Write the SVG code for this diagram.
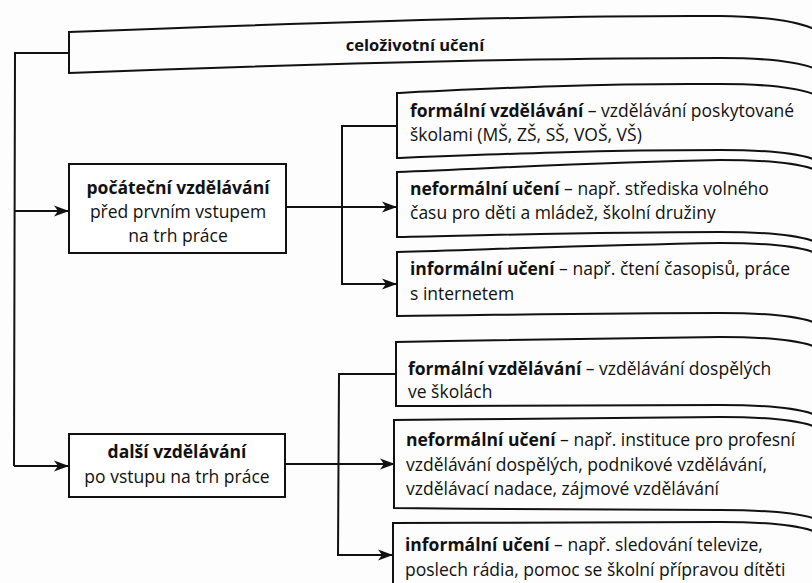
<svg xmlns="http://www.w3.org/2000/svg" width="812" height="583" viewBox="0 0 812 583">
<defs>
<marker id="arr" markerUnits="userSpaceOnUse" markerWidth="16" markerHeight="12" refX="15" refY="5.5" orient="auto" viewBox="0 0 16 11">
<path d="M0,0 L15,5.5 L0,11 L4,5.5 Z" fill="#111"/>
</marker>
<style>
.ln{fill:none;stroke:#111;stroke-width:2;stroke-linejoin:miter}
.bx{fill:#fff;stroke:#111;stroke-width:2}
text{font-family:"Open Sans","Noto Sans","DejaVu Sans",sans-serif;fill:#111;font-size:17.5px}
.l{font-size:17.5px}
.b{font-weight:700}
.c{text-anchor:middle}
</style>
</defs>
<rect width="812" height="583" fill="#fdfdfd"/>

<g id="connectors">
<path class="ln" d="M69,53 L15,53 L14,466"/>
<path class="ln" d="M15,211 L69,211" marker-end="url(#arr)"/>
<path class="ln" d="M14,466 L69,466" marker-end="url(#arr)"/>
<path class="ln" d="M286,207 L397,207" marker-end="url(#arr)"/>
<path class="ln" d="M397,126 L342,126 L342,284 L397,284" marker-end="url(#arr)"/>
<path class="ln" d="M285,464 L395,464" marker-end="url(#arr)"/>
<path class="ln" d="M396,374 L339,374 L338,555 L393,555" marker-end="url(#arr)"/>
</g>

<g id="celozivotni-uceni">
<path class="ln" d="M816,30 Q790,17 720,16 C550,15 300,23 69,32 V73 C300,64 550,58 720,58 Q790,58 816,69"/>
<text class="c b" x="415" y="51" style="font-size:16.5px">celoživotní učení</text>
</g>

<g id="pocatecni-vzdelavani">
<rect class="bx" x="69" y="164" width="217" height="89"/>
<text class="c" x="178" y="194"><tspan class="b">počáteční vzdělávání</tspan></text>
<text class="c" x="178" y="218">před prvním vstupem</text>
<text class="c" x="178" y="242">na trh práce</text>
</g>

<g id="dalsi-vzdelavani">
<rect class="bx" x="69" y="434" width="216" height="63"/>
<text class="c" x="177" y="458"><tspan class="b">další vzdělávání</tspan></text>
<text class="c" x="177" y="483">po vstupu na trh práce</text>
</g>

<g id="formalni-1">
<path class="ln" d="M816,95 Q790,84 720,84 C600,83 500,88 397,93 V158 C500,154 600,150 720,150 Q790,150 816,160"/>
<text x="410" y="117"><tspan class="b">formální vzdělávání</tspan> – vzdělávání poskytované</text>
<text x="410" y="141">školami (MŠ, ZŠ, SŠ, VOŠ, VŠ)</text>
</g>

<g id="neformalni-1">
<path class="ln" d="M816,170 Q790,160 720,160 C600,162 500,168 397,172 V237 C500,235 600,232 720,232 Q790,232 816,242"/>
<text x="410" y="195"><tspan class="b">neformální učení</tspan> – např. střediska volného</text>
<text x="410" y="219">času pro děti a mládež, školní družiny</text>
</g>

<g id="informalni-1">
<path class="ln" d="M816,253 Q790,243 720,243 C600,245 500,249 397,252 V316 C500,315 600,313 720,313 Q790,313 816,323"/>
<text x="410" y="275"><tspan class="b">informální učení</tspan> – např. čtení časopisů, práce</text>
<text x="410" y="300">s internetem</text>
</g>

<g id="formalni-2">
<path class="ln" d="M816,347 Q790,337 720,337 C600,338 500,340 396,342 V406 C500,406 600,405 720,405 Q790,405 816,415"/>
<text x="408" y="375"><tspan class="b">formální vzdělávání</tspan> – vzdělávání dospělých</text>
<text x="408" y="398">ve školách</text>
</g>

<g id="neformalni-2">
<path class="ln" d="M816,427 Q790,417 720,417 C600,418 500,419 394,420 V508 C500,509 600,510 720,510 Q790,510 816,519"/>
<text x="406" y="446"><tspan class="b">neformální učení</tspan> – např. instituce pro profesní</text>
<text x="406" y="471">vzdělávání dospělých, podnikové vzdělávání,</text>
<text x="406" y="495">vzdělávací nadace, zájmové vzdělávání</text>
</g>

<g id="informalni-2">
<path class="ln" d="M816,532 Q790,522 720,522 C600,522 500,523 393,523 V590"/>
<text x="405" y="551"><tspan class="b">informální učení</tspan> – např. sledování televize,</text>
<text x="405" y="576">poslech rádia, pomoc se školní přípravou dítěti</text>
</g>
</svg>
